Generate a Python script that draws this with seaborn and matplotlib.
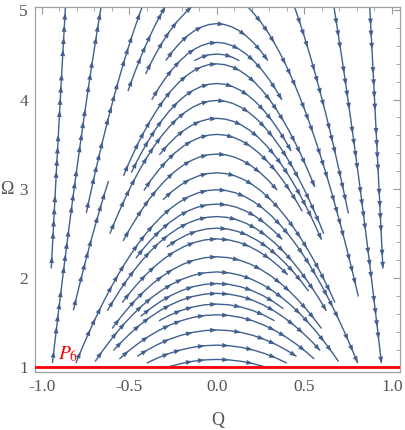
import numpy as np
import matplotlib
matplotlib.use("Agg")
import matplotlib.pyplot as plt
import seaborn as sns
from matplotlib.patches import FancyArrowPatch
from matplotlib.ticker import MultipleLocator, FormatStrFormatter

sns.set_style("white")
plt.rcParams['font.family'] = ['Liberation Serif', 'DejaVu Serif']
plt.rcParams['mathtext.fontset'] = 'stix'

LINE_COLOR = '#41608f'
ARROW_GAP = 23     # px between arrow heads along a horizontal run
VERT_WEIGHT = 1.5  # vertical runs get closer arrows

# arcs: apex height on Q = 0 and the Q span that is drawn
arc_apex = [4.85, 4.64, 4.51, 4.40, 4.18, 3.99, 3.79, 3.61, 3.39, 3.18, 2.99, 2.83,
            2.69, 2.56, 2.44, 2.24, 2.07, 1.94, 1.83, 1.71, 1.59, 1.42, 1.25, 1.09]
arc_q_lo = [-0.32, -0.39, -0.13, -0.55, -0.50, -0.62, -0.33, -0.43, -0.55, -0.35, -0.82, -0.50,
            -0.66, -0.29, -0.55, -0.62, -0.72, -0.45, -0.60, -0.33, -0.61, -0.50, -0.45, -0.28]
arc_q_hi = [0.32, 0.40, 0.13, 0.56, 0.45, 0.62, 0.62, 0.50, 0.35, 0.68, 0.82, 0.38,
            0.66, 0.56, 0.45, 0.62, 0.72, 0.40, 0.60, 0.35, 0.61, 0.50, 0.45, 0.28]

# side lines: one point read on each line and the Q span that is drawn
side_q = [-0.867, -0.667, -0.439, -0.315, -0.82, -0.181, 0.876, 0.675, 0.456, 0.209]
side_w = [4.97, 4.97, 4.97, 4.97, 1.64, 4.97, 4.97, 4.97, 4.97, 4.97]
side_q_lo = [-0.947, -0.945, -0.753, -0.525, -0.83, -0.42, 0.80, 0.60, 0.40, 0.10]
side_q_hi = [-0.80, -0.60, -0.30, -0.20, -0.60, -0.10, 0.952, 0.943, 0.761, 0.818]

seed_q = [0.0] * len(arc_apex) + side_q
seed_w = arc_apex + side_w
q_lo = arc_q_lo + side_q_lo
q_hi = arc_q_hi + side_q_hi

q = np.linspace(-1.039, 1.047, 420)
w = np.linspace(0.946, 5.04, 420)
QQ, WW = np.meshgrid(q, w)
U = 1 - QQ**2
V = -2 * QQ * WW
bad = (np.abs(QQ) >= 1) | (WW < 1)
U = np.ma.array(U, mask=bad)
V = np.ma.array(V, mask=bad)

fig = plt.figure(figsize=(4.05, 4.30), dpi=100)
ax = fig.add_axes([35 / 405, 57.7 / 430, 365 / 405, 365.6 / 430])
ax.set_xlim(-1.039, 1.047)
ax.set_ylim(0.946, 5.04)

seeds = np.column_stack([seed_q, seed_w])
sp = ax.streamplot(q, w, U, V, start_points=seeds, integration_direction='both',
                   broken_streamlines=False, maxlength=20, minlength=0.0,
                   color=LINE_COLOR, linewidth=1.0, arrowstyle='-', arrowsize=0.01)
for p in list(ax.patches):
    p.remove()

segs = sp.lines.get_segments()
clipped = []
for (sq, sw), lo, hi in zip(seeds, q_lo, q_hi):
    best = min(segs, key=lambda s: np.min(np.hypot(s[:, 0] - sq, s[:, 1] - sw)))
    keep = best[(best[:, 0] >= lo) & (best[:, 0] <= hi)]
    if len(keep) > 1:
        clipped.append(keep)
sp.lines.set_segments(clipped)

# arrow heads along every line
for s in clipped:
    pix = ax.transData.transform(s)
    d = np.diff(pix, axis=0)
    dist = np.concatenate([[0], np.cumsum(np.hypot(d[:, 0], VERT_WEIGHT * d[:, 1]))])
    for t in np.arange(ARROW_GAP * 0.6, dist[-1] - 3, ARROW_GAP):
        i = min(np.searchsorted(dist, t), len(s) - 1)
        if i == 0:
            continue
        ax.add_patch(FancyArrowPatch(s[i - 1], s[i], arrowstyle='-|>,head_length=0.6,head_width=0.22',
                                     mutation_scale=8, color=LINE_COLOR, lw=0,
                                     shrinkA=0, shrinkB=0, zorder=3))

ax.axhline(1, color='red', lw=2, zorder=4)
ax.text(-0.905, 1.095, r'$P_6$', color='red', fontsize=14, va='baseline', zorder=5)

ax.xaxis.set_major_locator(MultipleLocator(0.5))
ax.xaxis.set_minor_locator(MultipleLocator(0.1))
ax.xaxis.set_major_formatter(FormatStrFormatter('%.1f'))
ax.yaxis.set_major_locator(MultipleLocator(1))
ax.yaxis.set_minor_locator(MultipleLocator(0.2))
ax.tick_params(which='both', direction='in', top=True, right=True, color='#999999',
               labelcolor='#555555', labelsize=12.5)
ax.tick_params(which='major', length=5, width=0.8, pad=5)
ax.tick_params(which='minor', length=3, width=0.6)
for sp_ in ax.spines.values():
    sp_.set_color('#a0a0a0')
    sp_.set_linewidth(0.9)

ax.set_xlabel('Q', fontsize=13, color='#555555')
ax.set_ylabel('Ω', fontsize=13, color='#555555', rotation=0, va='center')
ax.xaxis.set_label_coords(0.5, -0.109)
ax.yaxis.set_label_coords(-0.077, 0.5)

fig.savefig('out.png', dpi=100)
